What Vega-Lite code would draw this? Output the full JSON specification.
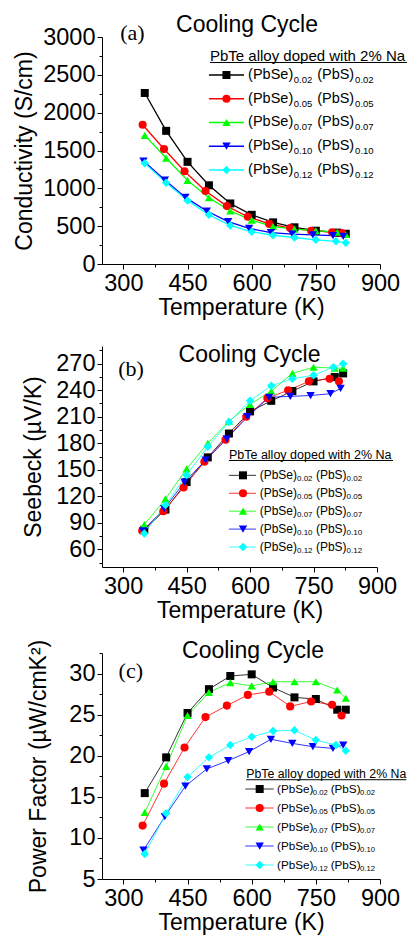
{
  "$schema": "https://vega.github.io/schema/vega-lite/v6.json",
  "background": "white",
  "padding": {"left": 13, "top": 13, "right": 0, "bottom": 0},
  "bounds": "flush",
  "spacing": 82,
  "resolve": {"scale": {"yOffset": "independent"}},
  "config": {
    "view": {"stroke": null},
    "font": "Liberation Sans",
    "axis": {"grid": false, "domainColor": "#000", "tickColor": "#000", "labelColor": "#000", "titleColor": "#000", "labelFont": "Liberation Sans", "titleFont": "Liberation Sans", "labelFontSize": 23.5, "titleFontSize": 23, "titleFontWeight": "normal", "tickSize": 5, "labelPadding": 2, "domainWidth": 1, "tickWidth": 1, "labelFlush": false, "labelOverlap": false, "format": "d"},
    "title": {"font": "Liberation Sans", "fontSize": 23, "fontWeight": "normal", "color": "#000"},
    "text": {"font": "Liberation Sans", "color": "#000"}
  },
  "datasets": {
    "leg": [{"s": "0.02"}, {"s": "0.05"}, {"s": "0.07"}, {"s": "0.10"}, {"s": "0.12"}],
    "a": [
      {"s": "0.02", "T": 350, "v": 2260}, {"s": "0.02", "T": 400, "v": 1760}, {"s": "0.02", "T": 450, "v": 1350}, {"s": "0.02", "T": 500, "v": 1040}, {"s": "0.02", "T": 550, "v": 800}, {"s": "0.02", "T": 600, "v": 650}, {"s": "0.02", "T": 650, "v": 550}, {"s": "0.02", "T": 700, "v": 485}, {"s": "0.02", "T": 750, "v": 440}, {"s": "0.02", "T": 800, "v": 415}, {"s": "0.02", "T": 820, "v": 400},
      {"s": "0.05", "T": 345, "v": 1840}, {"s": "0.05", "T": 395, "v": 1520}, {"s": "0.05", "T": 443, "v": 1225}, {"s": "0.05", "T": 492, "v": 965}, {"s": "0.05", "T": 542, "v": 765}, {"s": "0.05", "T": 591, "v": 625}, {"s": "0.05", "T": 641, "v": 530}, {"s": "0.05", "T": 690, "v": 475}, {"s": "0.05", "T": 739, "v": 440}, {"s": "0.05", "T": 788, "v": 420}, {"s": "0.05", "T": 810, "v": 410},
      {"s": "0.07", "T": 350, "v": 1700}, {"s": "0.07", "T": 400, "v": 1400}, {"s": "0.07", "T": 450, "v": 1105}, {"s": "0.07", "T": 500, "v": 875}, {"s": "0.07", "T": 550, "v": 700}, {"s": "0.07", "T": 600, "v": 580}, {"s": "0.07", "T": 650, "v": 495}, {"s": "0.07", "T": 700, "v": 460}, {"s": "0.07", "T": 750, "v": 440}, {"s": "0.07", "T": 800, "v": 420}, {"s": "0.07", "T": 820, "v": 390},
      {"s": "0.10", "T": 347, "v": 1360}, {"s": "0.10", "T": 397, "v": 1110}, {"s": "0.10", "T": 445, "v": 880}, {"s": "0.10", "T": 495, "v": 700}, {"s": "0.10", "T": 545, "v": 560}, {"s": "0.10", "T": 594, "v": 470}, {"s": "0.10", "T": 645, "v": 415}, {"s": "0.10", "T": 695, "v": 395}, {"s": "0.10", "T": 743, "v": 385}, {"s": "0.10", "T": 790, "v": 375}, {"s": "0.10", "T": 814, "v": 365},
      {"s": "0.12", "T": 350, "v": 1330}, {"s": "0.12", "T": 400, "v": 1075}, {"s": "0.12", "T": 450, "v": 840}, {"s": "0.12", "T": 500, "v": 650}, {"s": "0.12", "T": 550, "v": 510}, {"s": "0.12", "T": 600, "v": 425}, {"s": "0.12", "T": 650, "v": 380}, {"s": "0.12", "T": 700, "v": 350}, {"s": "0.12", "T": 750, "v": 320}, {"s": "0.12", "T": 797, "v": 300}, {"s": "0.12", "T": 820, "v": 280}
    ],
    "b": [
      {"s": "0.02", "T": 350, "v": 82}, {"s": "0.02", "T": 400, "v": 105}, {"s": "0.02", "T": 450, "v": 136}, {"s": "0.02", "T": 500, "v": 164}, {"s": "0.02", "T": 550, "v": 191}, {"s": "0.02", "T": 600, "v": 216}, {"s": "0.02", "T": 650, "v": 228}, {"s": "0.02", "T": 700, "v": 239}, {"s": "0.02", "T": 750, "v": 250}, {"s": "0.02", "T": 800, "v": 255}, {"s": "0.02", "T": 820, "v": 259},
      {"s": "0.05", "T": 345, "v": 81}, {"s": "0.05", "T": 395, "v": 103}, {"s": "0.05", "T": 443, "v": 130}, {"s": "0.05", "T": 492, "v": 159}, {"s": "0.05", "T": 542, "v": 184}, {"s": "0.05", "T": 591, "v": 210}, {"s": "0.05", "T": 641, "v": 231}, {"s": "0.05", "T": 690, "v": 240}, {"s": "0.05", "T": 739, "v": 250}, {"s": "0.05", "T": 788, "v": 253}, {"s": "0.05", "T": 810, "v": 250},
      {"s": "0.07", "T": 350, "v": 88}, {"s": "0.07", "T": 400, "v": 117}, {"s": "0.07", "T": 450, "v": 151}, {"s": "0.07", "T": 500, "v": 180}, {"s": "0.07", "T": 550, "v": 205}, {"s": "0.07", "T": 600, "v": 224}, {"s": "0.07", "T": 650, "v": 239}, {"s": "0.07", "T": 700, "v": 259}, {"s": "0.07", "T": 750, "v": 266}, {"s": "0.07", "T": 800, "v": 265}, {"s": "0.07", "T": 820, "v": 265},
      {"s": "0.10", "T": 347, "v": 81}, {"s": "0.10", "T": 397, "v": 106}, {"s": "0.10", "T": 445, "v": 136}, {"s": "0.10", "T": 495, "v": 161}, {"s": "0.10", "T": 545, "v": 185}, {"s": "0.10", "T": 594, "v": 210}, {"s": "0.10", "T": 645, "v": 232}, {"s": "0.10", "T": 695, "v": 233}, {"s": "0.10", "T": 743, "v": 234}, {"s": "0.10", "T": 790, "v": 236}, {"s": "0.10", "T": 814, "v": 242},
      {"s": "0.12", "T": 350, "v": 78}, {"s": "0.12", "T": 400, "v": 110}, {"s": "0.12", "T": 450, "v": 144}, {"s": "0.12", "T": 500, "v": 176}, {"s": "0.12", "T": 550, "v": 204}, {"s": "0.12", "T": 600, "v": 228}, {"s": "0.12", "T": 650, "v": 245}, {"s": "0.12", "T": 700, "v": 253}, {"s": "0.12", "T": 750, "v": 257}, {"s": "0.12", "T": 797, "v": 266}, {"s": "0.12", "T": 820, "v": 270}
    ],
    "c": [
      {"s": "0.02", "T": 350, "v": 15.45}, {"s": "0.02", "T": 400, "v": 19.8}, {"s": "0.02", "T": 450, "v": 25.2}, {"s": "0.02", "T": 500, "v": 28.1}, {"s": "0.02", "T": 550, "v": 29.7}, {"s": "0.02", "T": 600, "v": 29.9}, {"s": "0.02", "T": 650, "v": 28.3}, {"s": "0.02", "T": 700, "v": 27.1}, {"s": "0.02", "T": 750, "v": 26.9}, {"s": "0.02", "T": 800, "v": 25.6}, {"s": "0.02", "T": 820, "v": 25.6},
      {"s": "0.05", "T": 345, "v": 11.5}, {"s": "0.05", "T": 395, "v": 16.6}, {"s": "0.05", "T": 443, "v": 21.0}, {"s": "0.05", "T": 492, "v": 24.7}, {"s": "0.05", "T": 542, "v": 26.1}, {"s": "0.05", "T": 591, "v": 27.4}, {"s": "0.05", "T": 641, "v": 27.8}, {"s": "0.05", "T": 690, "v": 26.0}, {"s": "0.05", "T": 739, "v": 26.6}, {"s": "0.05", "T": 788, "v": 26.2}, {"s": "0.05", "T": 810, "v": 24.9},
      {"s": "0.07", "T": 350, "v": 13.1}, {"s": "0.07", "T": 400, "v": 18.7}, {"s": "0.07", "T": 450, "v": 24.9}, {"s": "0.07", "T": 500, "v": 27.7}, {"s": "0.07", "T": 550, "v": 28.9}, {"s": "0.07", "T": 600, "v": 28.5}, {"s": "0.07", "T": 650, "v": 29.0}, {"s": "0.07", "T": 700, "v": 29.0}, {"s": "0.07", "T": 750, "v": 29.0}, {"s": "0.07", "T": 800, "v": 28.0}, {"s": "0.07", "T": 820, "v": 27.0},
      {"s": "0.10", "T": 347, "v": 8.5}, {"s": "0.10", "T": 397, "v": 12.6}, {"s": "0.10", "T": 445, "v": 16.3}, {"s": "0.10", "T": 495, "v": 18.4}, {"s": "0.10", "T": 545, "v": 19.4}, {"s": "0.10", "T": 594, "v": 20.5}, {"s": "0.10", "T": 645, "v": 22.0}, {"s": "0.10", "T": 695, "v": 21.5}, {"s": "0.10", "T": 743, "v": 21.1}, {"s": "0.10", "T": 790, "v": 20.9}, {"s": "0.10", "T": 814, "v": 21.3},
      {"s": "0.12", "T": 350, "v": 8.05}, {"s": "0.12", "T": 400, "v": 13.0}, {"s": "0.12", "T": 450, "v": 17.4}, {"s": "0.12", "T": 500, "v": 19.8}, {"s": "0.12", "T": 550, "v": 21.3}, {"s": "0.12", "T": 600, "v": 22.3}, {"s": "0.12", "T": 650, "v": 23.0}, {"s": "0.12", "T": 700, "v": 23.1}, {"s": "0.12", "T": 750, "v": 21.9}, {"s": "0.12", "T": 797, "v": 21.3}, {"s": "0.12", "T": 820, "v": 20.6}
    ]
  },
  "vconcat": [
    {
      "width": 278, "height": 227,
      "title": {"text": "Cooling Cycle", "offset": -15, "dx": 6},
      "resolve": {"axis": {"x": "independent", "y": "independent"}},
      "layer": [
        {"data": {"name": "a"}, "mark": {"type": "line", "strokeWidth": 1.3},
         "encoding": {
           "x": {"field": "T", "type": "quantitative", "scale": {"domain": [250, 900], "nice": false, "zero": false}, "axis": {"values": [300, 450, 600, 750, 900], "title": "Temperature (K)", "titlePadding": 2}},
           "y": {"field": "v", "type": "quantitative", "scale": {"domain": [0, 3000], "nice": false, "zero": false}, "axis": {"values": [0, 500, 1000, 1500, 2000, 2500, 3000], "title": "Conductivity (S/cm)", "titlePadding": 6}},
           "color": {"field": "s", "type": "nominal", "scale": {"domain": ["0.02", "0.05", "0.07", "0.10", "0.12"], "range": ["#000000", "#ff0000", "#00ff00", "#0000ff", "#00ffff"]}, "legend": null}
         }},
        {"data": {"name": "a"}, "mark": {"type": "point", "filled": true, "opacity": 1},
         "encoding": {
           "x": {"field": "T", "type": "quantitative", "scale": {"domain": [250, 900], "nice": false, "zero": false}, "axis": {"values": [375, 525, 675, 825], "labels": false, "domain": false, "title": null, "tickSize": 3, "orient": "bottom"}},
           "y": {"field": "v", "type": "quantitative", "scale": {"domain": [0, 3000], "nice": false, "zero": false}, "axis": {"values": [250, 750, 1250, 1750, 2250, 2750], "labels": false, "domain": false, "title": null, "tickSize": 3, "orient": "left"}},
           "color": {"field": "s", "type": "nominal", "scale": {"domain": ["0.02", "0.05", "0.07", "0.10", "0.12"], "range": ["#000000", "#ff0000", "#00ff00", "#0000ff", "#00ffff"]}, "legend": null},
           "shape": {"field": "s", "type": "nominal", "scale": {"domain": ["0.02", "0.05", "0.07", "0.10", "0.12"], "range": ["square", "circle", "triangle-up", "triangle-down", "diamond"]}, "legend": null},
           "size": {"field": "s", "type": "ordinal", "scale": {"domain": ["0.02", "0.05", "0.07", "0.10", "0.12"], "range": [64, 72, 100, 100, 90]}, "legend": null}
         }},
        {"data": {"name": "leg"}, "mark": {"type": "rule", "strokeWidth": 1.3},
         "encoding": {
           "x": {"datum": 500, "type": "quantitative", "axis": null}, "x2": {"datum": 582},
           "y": {"datum": 2498, "type": "quantitative", "axis": null},
           "yOffset": {"field": "s", "type": "nominal", "scale": {"type": "point", "padding": 0, "domain": ["0.02", "0.05", "0.07", "0.10", "0.12"], "range": [0, 95]}},
           "color": {"field": "s", "type": "nominal", "legend": null}
         }},
        {"data": {"name": "leg"}, "mark": {"type": "point", "filled": true, "opacity": 1},
         "encoding": {
           "x": {"datum": 541, "type": "quantitative", "axis": null},
           "y": {"datum": 2498, "type": "quantitative", "axis": null},
           "yOffset": {"field": "s", "type": "nominal", "scale": {"type": "point", "padding": 0, "domain": ["0.02", "0.05", "0.07", "0.10", "0.12"], "range": [0, 95]}},
           "color": {"field": "s", "type": "nominal", "legend": null},
           "shape": {"field": "s", "type": "nominal", "legend": null},
           "size": {"field": "s", "type": "ordinal", "legend": null}
         }},
        {"data": {"name": "leg"}, "mark": {"type": "text", "text": "(PbSe)", "align": "left", "baseline": "middle", "fontSize": 14.5},
         "encoding": {
           "x": {"datum": 591.6, "type": "quantitative", "axis": null},
           "y": {"datum": 2498, "type": "quantitative", "axis": null},
           "yOffset": {"field": "s", "type": "nominal", "scale": {"type": "point", "padding": 0, "domain": ["0.02", "0.05", "0.07", "0.10", "0.12"], "range": [0, 95]}}
         }},
        {"data": {"name": "leg"}, "mark": {"type": "text", "align": "left", "baseline": "middle", "fontSize": 9.5, "dy": 5},
         "encoding": {
           "text": {"field": "s"},
           "x": {"datum": 698.5, "type": "quantitative", "axis": null},
           "y": {"datum": 2498, "type": "quantitative", "axis": null},
           "yOffset": {"field": "s", "type": "nominal", "scale": {"type": "point", "padding": 0, "domain": ["0.02", "0.05", "0.07", "0.10", "0.12"], "range": [0, 95]}}
         }},
        {"data": {"name": "leg"}, "mark": {"type": "text", "text": "(PbS)", "align": "left", "baseline": "middle", "fontSize": 14.5},
         "encoding": {
           "x": {"datum": 753, "type": "quantitative", "axis": null},
           "y": {"datum": 2498, "type": "quantitative", "axis": null},
           "yOffset": {"field": "s", "type": "nominal", "scale": {"type": "point", "padding": 0, "domain": ["0.02", "0.05", "0.07", "0.10", "0.12"], "range": [0, 95]}}
         }},
        {"data": {"name": "leg"}, "mark": {"type": "text", "align": "left", "baseline": "middle", "fontSize": 9.5, "dy": 5},
         "encoding": {
           "text": {"field": "s"},
           "x": {"datum": 841.8, "type": "quantitative", "axis": null},
           "y": {"datum": 2498, "type": "quantitative", "axis": null},
           "yOffset": {"field": "s", "type": "nominal", "scale": {"type": "point", "padding": 0, "domain": ["0.02", "0.05", "0.07", "0.10", "0.12"], "range": [0, 95]}}
         }},
        {"data": {"values": [{"t": "PbTe alloy doped with 2% Na"}]}, "mark": {"type": "text", "align": "left", "baseline": "middle", "fontSize": 15},
         "encoding": {
           "text": {"field": "t"},
           "x": {"datum": 502.5, "type": "quantitative", "axis": null},
           "y": {"datum": 2749, "type": "quantitative", "axis": null}
         }},
        {"data": {"values": [{}]}, "mark": {"type": "rule", "color": "#000", "strokeWidth": 1},
         "encoding": {
           "x": {"datum": 502.5, "type": "quantitative", "axis": null}, "x2": {"datum": 963},
           "y": {"datum": 2663, "type": "quantitative", "axis": null}
         }},
        {"data": {"values": [{"t": "(a)"}]}, "mark": {"type": "text", "align": "center", "baseline": "middle", "font": "Liberation Serif", "fontSize": 22},
         "encoding": {
           "text": {"field": "t"},
           "x": {"datum": 321, "type": "quantitative", "axis": null},
           "y": {"datum": 3057, "type": "quantitative", "axis": null}
         }}
      ]
    },
    {
      "bounds": "flush",
      "spacing": 86,
      "resolve": {"scale": {"yOffset": "independent"}},
      "vconcat": [
        {
          "width": 275, "height": 221,
          "title": {"text": "Cooling Cycle", "offset": -21, "dx": 10},
          "resolve": {"axis": {"x": "independent", "y": "independent"}},
          "layer": [
            {"data": {"name": "b"}, "mark": {"type": "line", "strokeWidth": 0.8},
             "encoding": {
               "x": {"field": "T", "type": "quantitative", "scale": {"domain": [250, 900], "nice": false, "zero": false}, "axis": {"values": [300, 450, 600, 750, 900], "title": "Temperature (K)", "titlePadding": 2}},
               "y": {"field": "v", "type": "quantitative", "scale": {"domain": [40, 290], "nice": false, "zero": false}, "axis": {"values": [60, 90, 120, 150, 180, 210, 240, 270], "title": "Seebeck (µV/K)", "titlePadding": 10}},
               "color": {"field": "s", "type": "nominal", "scale": {"domain": ["0.02", "0.05", "0.07", "0.10", "0.12"], "range": ["#000000", "#ff0000", "#00ff00", "#0000ff", "#00ffff"]}, "legend": null}
             }},
            {"data": {"name": "b"}, "mark": {"type": "point", "filled": true, "opacity": 1},
             "encoding": {
               "x": {"field": "T", "type": "quantitative", "scale": {"domain": [250, 900], "nice": false, "zero": false}, "axis": {"values": [375, 525, 675, 825], "labels": false, "domain": false, "title": null, "tickSize": 3, "orient": "bottom"}},
               "y": {"field": "v", "type": "quantitative", "scale": {"domain": [40, 290], "nice": false, "zero": false}, "axis": {"values": [45, 75, 105, 135, 165, 195, 225, 255, 285], "labels": false, "domain": false, "title": null, "tickSize": 3, "orient": "left"}},
               "color": {"field": "s", "type": "nominal", "scale": {"domain": ["0.02", "0.05", "0.07", "0.10", "0.12"], "range": ["#000000", "#ff0000", "#00ff00", "#0000ff", "#00ffff"]}, "legend": null},
               "shape": {"field": "s", "type": "nominal", "scale": {"domain": ["0.02", "0.05", "0.07", "0.10", "0.12"], "range": ["square", "circle", "triangle-up", "triangle-down", "diamond"]}, "legend": null},
               "size": {"field": "s", "type": "ordinal", "scale": {"domain": ["0.02", "0.05", "0.07", "0.10", "0.12"], "range": [64, 72, 100, 100, 90]}, "legend": null}
             }},
            {"data": {"name": "leg"}, "mark": {"type": "rule", "strokeWidth": 0.8},
             "encoding": {
               "x": {"datum": 550, "type": "quantitative", "axis": null}, "x2": {"datum": 614},
               "y": {"datum": 143.7, "type": "quantitative", "axis": null},
               "yOffset": {"field": "s", "type": "nominal", "scale": {"type": "point", "padding": 0, "domain": ["0.02", "0.05", "0.07", "0.10", "0.12"], "range": [0, 71.7]}},
               "color": {"field": "s", "type": "nominal", "legend": null}
             }},
            {"data": {"name": "leg"}, "mark": {"type": "point", "filled": true, "opacity": 1},
             "encoding": {
               "x": {"datum": 583.3, "type": "quantitative", "axis": null},
               "y": {"datum": 143.7, "type": "quantitative", "axis": null},
               "yOffset": {"field": "s", "type": "nominal", "scale": {"type": "point", "padding": 0, "domain": ["0.02", "0.05", "0.07", "0.10", "0.12"], "range": [0, 71.7]}},
               "color": {"field": "s", "type": "nominal", "legend": null},
               "shape": {"field": "s", "type": "nominal", "legend": null},
               "size": {"field": "s", "type": "ordinal", "legend": null}
             }},
            {"data": {"name": "leg"}, "mark": {"type": "text", "text": "(PbSe)", "align": "left", "baseline": "middle", "fontSize": 12},
             "encoding": {
               "x": {"datum": 622.7, "type": "quantitative", "axis": null},
               "y": {"datum": 143.7, "type": "quantitative", "axis": null},
               "yOffset": {"field": "s", "type": "nominal", "scale": {"type": "point", "padding": 0, "domain": ["0.02", "0.05", "0.07", "0.10", "0.12"], "range": [0, 71.7]}}
             }},
            {"data": {"name": "leg"}, "mark": {"type": "text", "align": "left", "baseline": "middle", "fontSize": 8, "dy": 4},
             "encoding": {
               "text": {"field": "s"},
               "x": {"datum": 710.9, "type": "quantitative", "axis": null},
               "y": {"datum": 143.7, "type": "quantitative", "axis": null},
               "yOffset": {"field": "s", "type": "nominal", "scale": {"type": "point", "padding": 0, "domain": ["0.02", "0.05", "0.07", "0.10", "0.12"], "range": [0, 71.7]}}
             }},
            {"data": {"name": "leg"}, "mark": {"type": "text", "text": "(PbS)", "align": "left", "baseline": "middle", "fontSize": 12},
             "encoding": {
               "x": {"datum": 755.6, "type": "quantitative", "axis": null},
               "y": {"datum": 143.7, "type": "quantitative", "axis": null},
               "yOffset": {"field": "s", "type": "nominal", "scale": {"type": "point", "padding": 0, "domain": ["0.02", "0.05", "0.07", "0.10", "0.12"], "range": [0, 71.7]}}
             }},
            {"data": {"name": "leg"}, "mark": {"type": "text", "align": "left", "baseline": "middle", "fontSize": 8, "dy": 4},
             "encoding": {
               "text": {"field": "s"},
               "x": {"datum": 828.1, "type": "quantitative", "axis": null},
               "y": {"datum": 143.7, "type": "quantitative", "axis": null},
               "yOffset": {"field": "s", "type": "nominal", "scale": {"type": "point", "padding": 0, "domain": ["0.02", "0.05", "0.07", "0.10", "0.12"], "range": [0, 71.7]}}
             }},
            {"data": {"values": [{"t": "PbTe alloy doped with 2% Na"}]}, "mark": {"type": "text", "align": "left", "baseline": "middle", "fontSize": 12.5},
             "encoding": {
               "text": {"field": "t"},
               "x": {"datum": 550, "type": "quantitative", "axis": null},
               "y": {"datum": 166.7, "type": "quantitative", "axis": null}
             }},
            {"data": {"values": [{}]}, "mark": {"type": "rule", "color": "#000", "strokeWidth": 1},
             "encoding": {
               "x": {"datum": 550, "type": "quantitative", "axis": null}, "x2": {"datum": 937.8},
               "y": {"datum": 160.5, "type": "quantitative", "axis": null}
             }},
            {"data": {"values": [{"t": "(b)"}]}, "mark": {"type": "text", "align": "center", "baseline": "middle", "font": "Liberation Serif", "fontSize": 22},
             "encoding": {
               "text": {"field": "t"},
               "x": {"datum": 318.5, "type": "quantitative", "axis": null},
               "y": {"datum": 263.6, "type": "quantitative", "axis": null}
             }}
          ]
        },
        {
          "width": 278, "height": 226,
          "title": {"text": "Cooling Cycle", "offset": -24, "dx": 12},
          "resolve": {"axis": {"x": "independent", "y": "independent"}},
          "layer": [
            {"data": {"name": "c"}, "mark": {"type": "line", "strokeWidth": 0.8},
             "encoding": {
               "x": {"field": "T", "type": "quantitative", "scale": {"domain": [250, 900], "nice": false, "zero": false}, "axis": {"values": [300, 450, 600, 750, 900], "title": "Temperature (K)", "titlePadding": 2}},
               "y": {"field": "v", "type": "quantitative", "scale": {"domain": [5, 32.5], "nice": false, "zero": false}, "axis": {"values": [5, 10, 15, 20, 25, 30], "title": "Power Factor (µW/cmK²)", "titlePadding": 18}},
               "color": {"field": "s", "type": "nominal", "scale": {"domain": ["0.02", "0.05", "0.07", "0.10", "0.12"], "range": ["#000000", "#ff0000", "#00ff00", "#0000ff", "#00ffff"]}, "legend": null}
             }},
            {"data": {"name": "c"}, "mark": {"type": "point", "filled": true, "opacity": 1},
             "encoding": {
               "x": {"field": "T", "type": "quantitative", "scale": {"domain": [250, 900], "nice": false, "zero": false}, "axis": {"values": [375, 525, 675, 825], "labels": false, "domain": false, "title": null, "tickSize": 3, "orient": "bottom"}},
               "y": {"field": "v", "type": "quantitative", "scale": {"domain": [5, 32.5], "nice": false, "zero": false}, "axis": {"values": [7.5, 12.5, 17.5, 22.5, 27.5, 32.5], "labels": false, "domain": false, "title": null, "tickSize": 3, "orient": "left"}},
               "color": {"field": "s", "type": "nominal", "scale": {"domain": ["0.02", "0.05", "0.07", "0.10", "0.12"], "range": ["#000000", "#ff0000", "#00ff00", "#0000ff", "#00ffff"]}, "legend": null},
               "shape": {"field": "s", "type": "nominal", "scale": {"domain": ["0.02", "0.05", "0.07", "0.10", "0.12"], "range": ["square", "circle", "triangle-up", "triangle-down", "diamond"]}, "legend": null},
               "size": {"field": "s", "type": "ordinal", "scale": {"domain": ["0.02", "0.05", "0.07", "0.10", "0.12"], "range": [64, 72, 100, 100, 90]}, "legend": null}
             }},
            {"data": {"name": "leg"}, "mark": {"type": "rule", "strokeWidth": 0.8},
             "encoding": {
               "x": {"datum": 585, "type": "quantitative", "axis": null}, "x2": {"datum": 651.5},
               "y": {"datum": 15.95, "type": "quantitative", "axis": null},
               "yOffset": {"field": "s", "type": "nominal", "scale": {"type": "point", "padding": 0, "domain": ["0.02", "0.05", "0.07", "0.10", "0.12"], "range": [0, 76]}},
               "color": {"field": "s", "type": "nominal", "legend": null}
             }},
            {"data": {"name": "leg"}, "mark": {"type": "point", "filled": true, "opacity": 1},
             "encoding": {
               "x": {"datum": 618.7, "type": "quantitative", "axis": null},
               "y": {"datum": 15.95, "type": "quantitative", "axis": null},
               "yOffset": {"field": "s", "type": "nominal", "scale": {"type": "point", "padding": 0, "domain": ["0.02", "0.05", "0.07", "0.10", "0.12"], "range": [0, 76]}},
               "color": {"field": "s", "type": "nominal", "legend": null},
               "shape": {"field": "s", "type": "nominal", "legend": null},
               "size": {"field": "s", "type": "ordinal", "legend": null}
             }},
            {"data": {"name": "leg"}, "mark": {"type": "text", "text": "(PbSe)", "align": "left", "baseline": "middle", "fontSize": 11.7},
             "encoding": {
               "x": {"datum": 659.2, "type": "quantitative", "axis": null},
               "y": {"datum": 15.95, "type": "quantitative", "axis": null},
               "yOffset": {"field": "s", "type": "nominal", "scale": {"type": "point", "padding": 0, "domain": ["0.02", "0.05", "0.07", "0.10", "0.12"], "range": [0, 76]}}
             }},
            {"data": {"name": "leg"}, "mark": {"type": "text", "align": "left", "baseline": "middle", "fontSize": 7.7, "dy": 4},
             "encoding": {
               "text": {"field": "s"},
               "x": {"datum": 743, "type": "quantitative", "axis": null},
               "y": {"datum": 15.95, "type": "quantitative", "axis": null},
               "yOffset": {"field": "s", "type": "nominal", "scale": {"type": "point", "padding": 0, "domain": ["0.02", "0.05", "0.07", "0.10", "0.12"], "range": [0, 76]}}
             }},
            {"data": {"name": "leg"}, "mark": {"type": "text", "text": "(PbS)", "align": "left", "baseline": "middle", "fontSize": 11.7},
             "encoding": {
               "x": {"datum": 784.6, "type": "quantitative", "axis": null},
               "y": {"datum": 15.95, "type": "quantitative", "axis": null},
               "yOffset": {"field": "s", "type": "nominal", "scale": {"type": "point", "padding": 0, "domain": ["0.02", "0.05", "0.07", "0.10", "0.12"], "range": [0, 76]}}
             }},
            {"data": {"name": "leg"}, "mark": {"type": "text", "align": "left", "baseline": "middle", "fontSize": 7.7, "dy": 4},
             "encoding": {
               "text": {"field": "s"},
               "x": {"datum": 853.3, "type": "quantitative", "axis": null},
               "y": {"datum": 15.95, "type": "quantitative", "axis": null},
               "yOffset": {"field": "s", "type": "nominal", "scale": {"type": "point", "padding": 0, "domain": ["0.02", "0.05", "0.07", "0.10", "0.12"], "range": [0, 76]}}
             }},
            {"data": {"values": [{"t": "PbTe alloy doped with 2% Na"}]}, "mark": {"type": "text", "align": "left", "baseline": "middle", "fontSize": 12.3},
             "encoding": {
               "text": {"field": "t"},
               "x": {"datum": 587.4, "type": "quantitative", "axis": null},
               "y": {"datum": 17.78, "type": "quantitative", "axis": null}
             }},
            {"data": {"values": [{}]}, "mark": {"type": "rule", "color": "#000", "strokeWidth": 1},
             "encoding": {
               "x": {"datum": 587.4, "type": "quantitative", "axis": null}, "x2": {"datum": 961.5},
               "y": {"datum": 17.08, "type": "quantitative", "axis": null}
             }},
            {"data": {"values": [{"t": "(c)"}]}, "mark": {"type": "text", "align": "center", "baseline": "middle", "font": "Liberation Serif", "fontSize": 22},
             "encoding": {
               "text": {"field": "t"},
               "x": {"datum": 317.3, "type": "quantitative", "axis": null},
               "y": {"datum": 30.35, "type": "quantitative", "axis": null}
             }}
          ]
        }
      ]
    }
  ]
}
